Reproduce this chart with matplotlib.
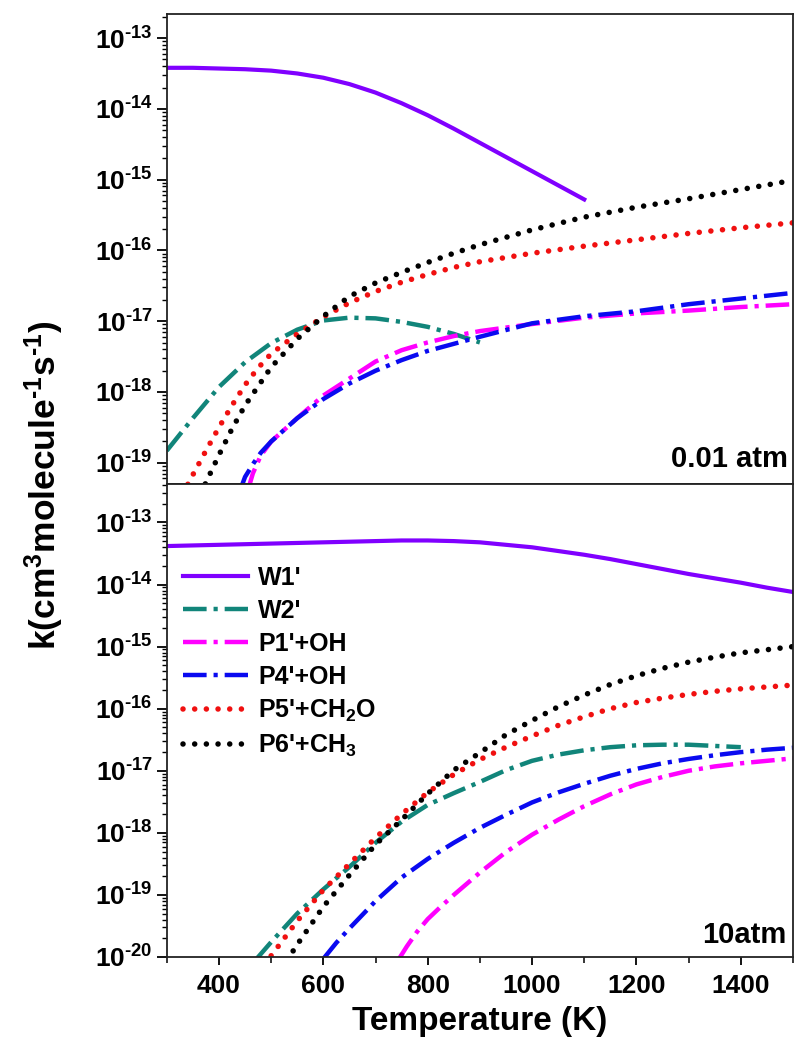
import numpy as np
import matplotlib
matplotlib.use("Agg")
import matplotlib.pyplot as plt
from matplotlib.ticker import FixedLocator, LogLocator, MultipleLocator, FuncFormatter, NullFormatter

plt.rcParams["font.family"] = ["Liberation Sans", "DejaVu Sans"]
plt.rcParams["font.weight"] = "bold"
plt.rcParams["mathtext.fontset"] = "custom"
plt.rcParams["mathtext.rm"] = "Liberation Sans:bold"
plt.rcParams["mathtext.bf"] = "Liberation Sans:bold"
plt.rcParams["mathtext.it"] = "Liberation Sans:bold"
plt.rcParams["mathtext.sf"] = "Liberation Sans:bold"
plt.rcParams["mathtext.default"] = "bf"
plt.rcParams["lines.scale_dashes"] = False

# ---- 0.01 atm : temperature (K) and log10 k ----
T_w1_low = [300, 350, 400, 450, 500, 550, 600, 650, 700, 750, 800, 850, 900, 950, 1000,
            1050, 1100]
k_w1_low = [-13.42, -13.42, -13.43, -13.44, -13.46, -13.50, -13.56, -13.65, -13.77,
            -13.92, -14.09, -14.28, -14.48, -14.68, -14.88, -15.08, -15.28]

T_w2_low = [300, 350, 400, 450, 500, 550, 600, 650, 700, 750, 800, 850, 900]
k_w2_low = [-18.83, -18.37, -17.93, -17.58, -17.31, -17.12, -16.99, -16.95, -16.96,
            -17.01, -17.08, -17.18, -17.30]

T_p1_low = [455, 465, 480, 500, 550, 600, 650, 700, 750, 800, 850, 900, 1000, 1100,
            1200, 1300, 1400, 1500]
k_p1_low = [-19.40, -19.15, -18.90, -18.70, -18.37, -18.05, -17.81, -17.57, -17.41,
            -17.30, -17.21, -17.14, -17.04, -16.95, -16.89, -16.85, -16.80, -16.76]

T_p4_low = [440, 450, 466, 480, 500, 550, 600, 650, 700, 750, 800, 900, 1000, 1100,
            1200, 1300, 1400, 1500]
k_p4_low = [-19.40, -19.20, -19.01, -18.86, -18.70, -18.37, -18.10, -17.88, -17.70,
            -17.55, -17.42, -17.22, -17.03, -16.93, -16.86, -16.76, -16.68, -16.60]

T_p5_low = [330, 350, 375, 400, 425, 450, 475, 500, 550, 600, 650, 700, 750, 800, 850,
            900, 1000, 1100, 1200, 1300, 1400, 1500]
k_p5_low = [-19.45, -19.17, -18.83, -18.50, -18.19, -17.90, -17.66, -17.46, -17.18,
            -16.94, -16.74, -16.58, -16.45, -16.34, -16.24, -16.16, -16.04, -15.94,
            -15.85, -15.76, -15.68, -15.61]

T_p6_low = [365, 375, 400, 425, 450, 475, 500, 550, 600, 650, 700, 750, 800, 850, 900,
            1000, 1100, 1200, 1300, 1400, 1500]
k_p6_low = [-19.45, -19.28, -18.89, -18.52, -18.19, -17.92, -17.65, -17.25, -16.93,
            -16.65, -16.46, -16.31, -16.17, -16.04, -15.92, -15.71, -15.53, -15.39,
            -15.27, -15.14, -15.01]

# ---- 10 atm ----
T_w1_high = [300, 400, 500, 600, 700, 750, 800, 850, 900, 950, 1000, 1050, 1100, 1150,
             1200, 1250, 1300, 1350, 1400, 1450, 1500]
k_w1_high = [-13.38, -13.36, -13.34, -13.32, -13.30, -13.29, -13.29, -13.30, -13.32,
             -13.36, -13.40, -13.46, -13.52, -13.59, -13.67, -13.75, -13.83, -13.90,
             -13.97, -14.05, -14.12]

T_w2_high = [470, 500, 550, 600, 650, 700, 750, 800, 850, 900, 950, 1000, 1050, 1100,
             1150, 1200, 1250, 1300, 1350, 1400]
k_w2_high = [-20.05, -19.76, -19.30, -18.91, -18.55, -18.16, -17.82, -17.55, -17.36,
             -17.18, -16.99, -16.84, -16.74, -16.67, -16.62, -16.59, -16.58, -16.58,
             -16.60, -16.62]

T_p1_high = [745, 760, 780, 800, 825, 850, 875, 900, 950, 1000, 1050, 1100, 1150, 1200,
             1250, 1300, 1350, 1400, 1450, 1500]
k_p1_high = [-20.03, -19.83, -19.59, -19.39, -19.19, -19.00, -18.82, -18.64, -18.31,
             -18.03, -17.79, -17.57, -17.38, -17.22, -17.10, -17.00, -16.93, -16.88,
             -16.84, -16.80]

T_p4_high = [600, 625, 650, 700, 750, 800, 850, 900, 950, 1000, 1050, 1100, 1150, 1200,
             1250, 1300, 1350, 1400, 1450, 1500]
k_p4_high = [-20.03, -19.77, -19.54, -19.10, -18.72, -18.42, -18.16, -17.92, -17.71,
             -17.51, -17.35, -17.21, -17.08, -16.97, -16.88, -16.81, -16.75, -16.70,
             -16.66, -16.63]

T_p5_high = [500, 550, 600, 650, 700, 750, 800, 850, 900, 950, 1000, 1050, 1100, 1150,
             1200, 1250, 1300, 1350, 1400, 1450, 1500]
k_p5_high = [-19.98, -19.42, -18.92, -18.50, -18.08, -17.70, -17.35, -17.06, -16.82,
             -16.62, -16.44, -16.27, -16.13, -16.00, -15.90, -15.83, -15.77, -15.72,
             -15.68, -15.65, -15.62]

T_p6_high = [530, 550, 600, 650, 700, 750, 800, 850, 900, 950, 1000, 1050, 1100, 1150,
             1200, 1250, 1300, 1350, 1400, 1450, 1500]
k_p6_high = [-20.06, -19.80, -19.19, -18.68, -18.19, -17.79, -17.37, -16.99, -16.71,
             -16.42, -16.19, -15.97, -15.78, -15.61, -15.47, -15.35, -15.25, -15.17,
             -15.10, -15.05, -15.00]

labels = ["W1'", "W2'", "P1'+OH", "P4'+OH",
          "P5'+CH$_\\mathdefault{2}$O", "P6'+CH$_\\mathdefault{3}$"]
x_ticks = [400, 600, 800, 1000, 1200, 1400]
y_decades_low = [1e-19, 1e-18, 1e-17, 1e-16, 1e-15, 1e-14, 1e-13]
y_decades_high = [1e-20, 1e-19, 1e-18, 1e-17, 1e-16, 1e-15, 1e-14, 1e-13]


def decade_label(v, pos):
    # power-of-ten label written with a short hyphen in the exponent
    n = int(round(np.log10(v)))
    sign = "\\text{-}" if n < 0 else ""
    return "$\\mathdefault{10^{%s%d}}$" % (sign, abs(n))


# line appearance for each channel
DASHDOT = (0, (17, 5, 3, 5))
DOT = (0, (0.01, 8.4))
styles = [
    dict(color="#8000FF", lw=3.0, ls="-"),
    dict(color="#11857A", lw=3.2, ls=DASHDOT),
    dict(color="#FF00FF", lw=3.2, ls=DASHDOT),
    dict(color="#0A0AF0", lw=3.2, ls=DASHDOT),
    dict(color="#F01010", lw=4.0, ls=DOT, dash_capstyle="round"),
    dict(color="#000000", lw=4.0, ls=DOT, dash_capstyle="round"),
]

low = [(T_w1_low, k_w1_low), (T_w2_low, k_w2_low), (T_p1_low, k_p1_low),
       (T_p4_low, k_p4_low), (T_p5_low, k_p5_low), (T_p6_low, k_p6_low)]
high = [(T_w1_high, k_w1_high), (T_w2_high, k_w2_high), (T_p1_high, k_p1_high),
        (T_p4_high, k_p4_high), (T_p5_high, k_p5_high), (T_p6_high, k_p6_high)]

fig = plt.figure(figsize=(7.98, 10.46), dpi=100)
ax_top = fig.add_axes([0.2090, 0.5373, 0.7847, 0.4493])
ax_bot = fig.add_axes([0.2090, 0.0851, 0.7847, 0.4522])

handles = []
for ax, sets in ((ax_top, low), (ax_bot, high)):
    for (T, lk), st, lab in zip(sets, styles, labels):
        h, = ax.plot(T, 10.0 ** np.array(lk), label=lab, **st)
        if ax is ax_bot:
            handles.append(h)

for ax, decades in ((ax_top, y_decades_low), (ax_bot, y_decades_high)):
    ax.set_yscale("log")
    ax.set_xlim(300, 1500)
    ax.yaxis.set_major_locator(FixedLocator(decades))
    ax.yaxis.set_minor_locator(LogLocator(base=10, subs=np.arange(2, 10), numticks=20))
    ax.yaxis.set_major_formatter(FuncFormatter(decade_label))
    ax.yaxis.set_minor_formatter(NullFormatter())
    ax.tick_params(axis="y", which="major", direction="out", length=7, width=1.3,
                   labelsize=19, pad=3)
    ax.tick_params(axis="y", which="minor", direction="out", length=3.5, width=1.0)
    for sp in ax.spines.values():
        sp.set_linewidth(1.3)
        sp.set_color("#222222")

ax_top.set_ylim(10 ** -19.30, 10 ** -12.66)
ax_bot.set_ylim(1e-20, 10 ** -12.38)

ax_top.tick_params(axis="x", which="both", length=0, labelbottom=False)
ax_bot.set_xticks(x_ticks)
ax_bot.xaxis.set_minor_locator(MultipleLocator(100))
ax_bot.tick_params(axis="x", which="major", direction="out", length=6, width=1.3,
                   labelsize=19, pad=6)
ax_bot.tick_params(axis="x", which="minor", direction="out", length=4, width=1.1)

ax_top.text(0.992, 0.036, "0.01 atm", transform=ax_top.transAxes, ha="right",
            va="baseline", fontsize=21, fontweight="bold")
ax_bot.text(0.989, 0.03, "10atm", transform=ax_bot.transAxes, ha="right",
            va="baseline", fontsize=21, fontweight="bold")

ax_bot.set_xlabel("Temperature (K)", fontsize=24, fontweight="bold", labelpad=6)
fig.text(44 / 798, 1 - 485 / 1046,
         "k(cm$^\\mathdefault{3}$molecule$^\\mathdefault{\\text{-}1}$"
         "s$^\\mathdefault{\\text{-}1}$)",
         rotation=90, ha="center", va="center", fontsize=25.5, fontweight="bold")

ax_bot.legend(handles=handles, loc="upper left", bbox_to_anchor=(0.018, 0.838),
              frameon=False, fontsize=18, handlelength=2.6, handletextpad=0.4,
              labelspacing=0.36, borderaxespad=0.0, borderpad=0.2)

fig.savefig("out.png", dpi=100)
